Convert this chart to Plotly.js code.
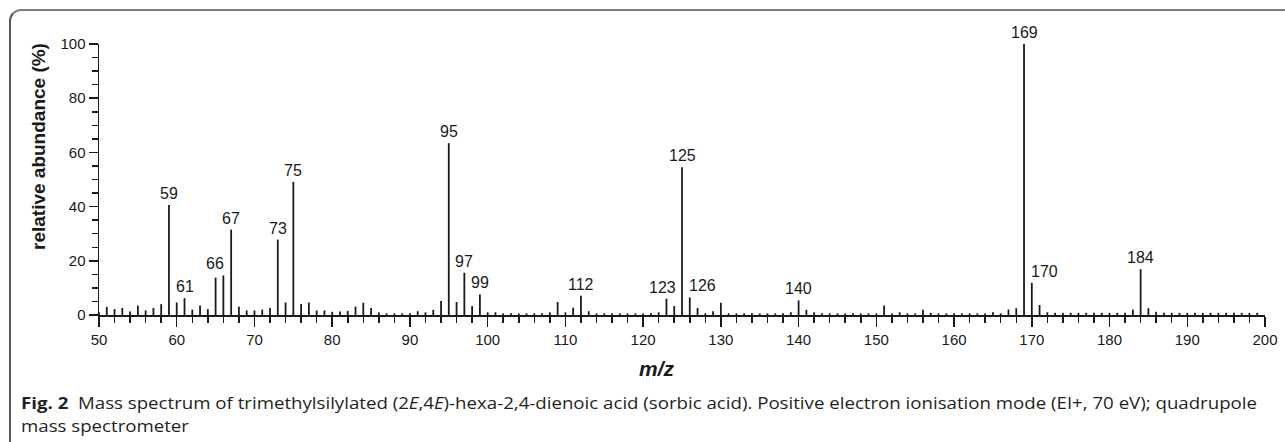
<!DOCTYPE html>
<html><head><meta charset="utf-8">
<script src="https://cdn.plot.ly/plotly-3.0.1.min.js"></script>
<style>
html,body{margin:0;padding:0;background:#fff;width:1285px;height:442px;overflow:hidden;position:relative}
#frame{position:absolute;left:9px;top:9px;width:1300px;height:470px;border-top:2px solid #7d7d7d;border-left:2px solid #5a5a5a;border-top-left-radius:12px;box-sizing:border-box}
#chart{position:absolute;left:0;top:0;width:1285px;height:442px}
#cap{position:absolute;left:21px;top:392px;font-family:'Open Sans','Noto Sans',sans-serif;font-size:16px;line-height:23px;color:#231f20;white-space:nowrap;transform-origin:0 0}
#cap b{font-weight:700}
</style></head>
<body>
<div id="frame"></div>
<div id="chart"></div>
<div id="cap"><div id="l1"><b>Fig. 2</b>&nbsp; Mass spectrum of trimethylsilylated (2<i>E</i>,4<i>E</i>)-hexa-2,4-dienoic acid (sorbic acid). Positive electron ionisation mode (EI+, 70&nbsp;eV); quadrupole</div><div id="l2">mass spectrometer</div></div>
<script>
// m/z values and relative abundances (%)
const mz = [50,51,52,53,54,55,56,57,58,59,60,61,62,63,64,65,66,67,68,69,70,71,72,73,74,75,76,77,78,79,
            80,81,82,83,84,85,86,87,88,89,90,91,92,93,94,95,96,97,98,99,100,101,102,103,104,105,106,107,108,109,
            110,111,112,113,114,115,116,117,118,119,120,121,122,123,124,125,126,127,128,129,130,131,132,133,134,135,136,137,138,139,
            140,141,142,143,144,145,146,147,148,149,150,151,152,153,154,155,156,157,158,159,160,161,162,163,164,165,166,167,168,169,
            170,171,172,173,174,175,176,177,178,179,180,181,182,183,184,185,186,187,188,189,190,191,192,193,194,195,196,197,198,199];
const abundance = [1.0,3.0,2.2,2.6,1.3,3.5,1.7,2.6,4.0,40.6,4.6,6.2,2.0,3.5,2.2,13.8,14.6,31.5,3.0,1.7,1.7,2.0,2.6,27.8,4.6,49.1,4.1,4.6,1.7,1.7,
            1.2,1.3,1.5,3.1,4.5,2.6,1.0,0.6,0.6,0.6,0.6,1.4,1.0,1.9,5.2,63.4,4.8,15.6,3.3,7.6,1.0,1.0,0.6,0.6,0.6,0.6,0.6,0.6,1.0,4.8,
            1.0,2.7,7.1,1.4,0.6,0.6,0.6,0.6,0.6,0.6,0.6,0.6,1.0,6.0,3.3,54.5,6.5,2.6,0.6,1.4,4.5,0.6,0.6,0.6,0.6,0.6,0.6,0.6,0.6,1.0,
            5.4,1.9,1.0,0.6,0.6,0.6,0.6,0.6,0.6,0.6,0.6,3.5,0.6,1.0,0.6,0.6,1.9,0.8,0.6,0.6,0.6,0.6,0.6,0.6,0.6,1.0,0.6,2.0,2.5,100,
            11.9,3.7,1.0,0.8,0.8,0.8,0.8,0.8,0.8,0.8,0.8,0.8,0.8,2.0,16.9,2.5,1.2,0.8,0.8,0.8,0.8,0.8,0.8,0.8,0.8,0.8,0.8,0.8,0.8,0.8];
const labeledPeaks = [59,61,66,67,73,75,95,97,99,112,123,125,126,140,169,170,184];
const xTickVals = [50,60,70,80,90,100,110,120,130,140,150,160,170,180,190,200];
const yTickVals = [0,20,40,60,80,100];

// styling offsets for a few labels (pixels)
const labelShift = {66:-8, 123:-4, 126:13, 170:13};

const ink = '#1a1a1a';
const xs = [], ys = [];
mz.forEach((m,i)=>{ xs.push(m,m,null); ys.push(0,abundance[i],null); });

const M = {l:99, r:20, t:44, b:127};
const W = 1285, H = 442;
const px = v => (v - M.l)/(W - M.l - M.r);
const py = v => (H - M.b - v)/(H - M.t - M.b);

const annotations = labeledPeaks.map(p=>({
  x:p, y:abundance[mz.indexOf(p)], xref:'x', yref:'y', text:String(p), showarrow:false,
  xanchor:'center', yanchor:'bottom', xshift:labelShift[p]||0, yshift:1,
  font:{family:'Liberation Sans, Arial, sans-serif', size:16, color:ink}
}));
annotations.push({x:px(657), y:py(368), xref:'paper', yref:'paper', text:'<b><i>m/z</i></b>', showarrow:false,
  xanchor:'center', yanchor:'middle', font:{family:'Liberation Sans, Arial, sans-serif', size:21, color:ink}});
annotations.push({x:px(38), y:py(147), xref:'paper', yref:'paper', text:'<b>relative abundance (%)</b>', showarrow:false,
  textangle:-90, xanchor:'center', yanchor:'middle', font:{family:'Liberation Sans, Arial, sans-serif', size:19, color:ink}});

const axisCommon = {showgrid:false, zeroline:false, showline:true, linewidth:1.5, linecolor:ink,
  ticks:'outside', tickwidth:1.5, tickcolor:ink, fixedrange:true,
  tickfont:{family:'Liberation Sans, Arial, sans-serif', size:15, color:ink}};

const layout = {
  width:W, height:H, margin:M, paper_bgcolor:'rgba(0,0,0,0)', plot_bgcolor:'rgba(0,0,0,0)', showlegend:false,
  xaxis:Object.assign({}, axisCommon, {range:[50,200], tickmode:'array', tickvals:xTickVals, ticklen:10,
    minor:{tick0:50, dtick:2, ticks:'outside', ticklen:6, tickwidth:1.5, tickcolor:ink, showgrid:false}}),
  yaxis:Object.assign({}, axisCommon, {range:[0,100], tickmode:'array', tickvals:yTickVals, ticklen:9,
    minor:{tick0:0, dtick:5, ticks:'outside', ticklen:6, tickwidth:1.5, tickcolor:ink, showgrid:false}}),
  annotations:annotations
};

Plotly.newPlot('chart', [{type:'scatter', mode:'lines', x:xs, y:ys, connectgaps:false,
  line:{color:ink, width:1.8}, hoverinfo:'skip', cliponaxis:false}], layout, {staticPlot:true, displayModeBar:false});

// fit caption line to reference width
const l1 = document.getElementById('l1');
const s = 1236 / l1.getBoundingClientRect().width;
document.getElementById('cap').style.transform = 'scaleX(' + s + ')';
</script>
</body></html>
